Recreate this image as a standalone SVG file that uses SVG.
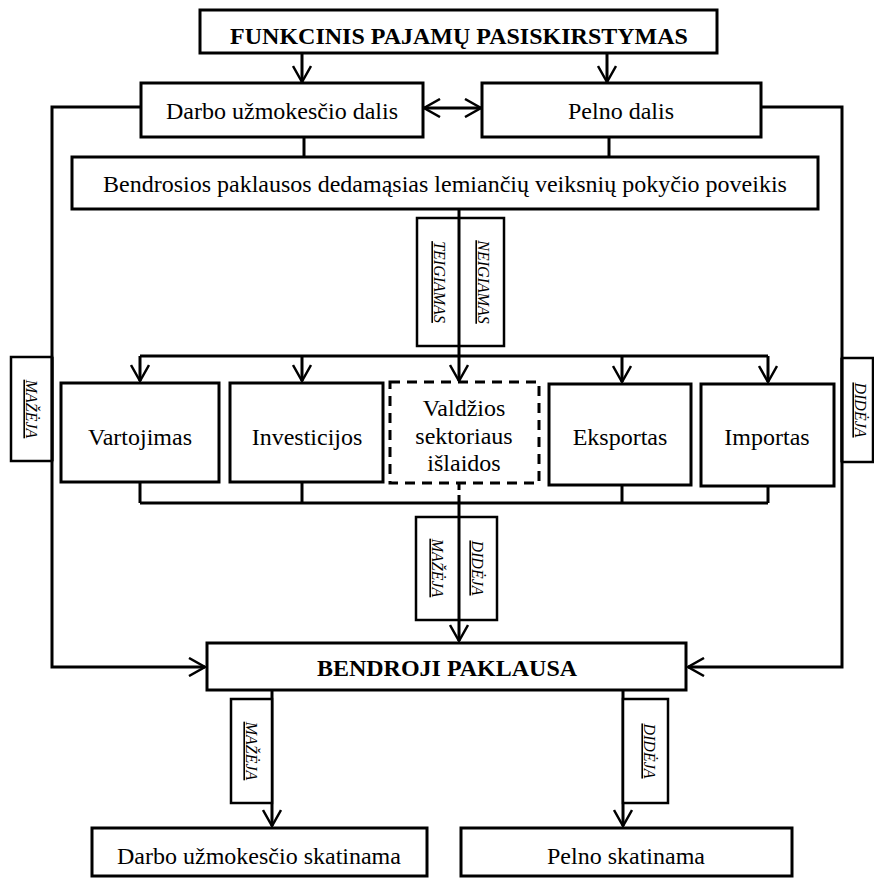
<svg xmlns="http://www.w3.org/2000/svg" width="874" height="878" viewBox="0 0 874 878">
  <style>
    .box { fill: #fff; stroke: #000; stroke-width: 3; }
    .dash { fill: #fff; stroke: #000; stroke-width: 3; stroke-dasharray: 10 7; }
    .tag { fill: #fff; stroke: #000; stroke-width: 2.5; }
    .ln { fill: none; stroke: #000; stroke-width: 3; }
    .t { font-family: "Liberation Serif", "Times New Roman", serif; font-size: 24px; fill: #000; text-anchor: middle; }
    .b { font-weight: bold; }
    .v { font-family: "Liberation Serif", "Times New Roman", serif; font-size: 16px; font-style: italic; fill: #000; text-anchor: middle; text-decoration: underline; }
  </style>
  <defs>
    <marker id="arr" viewBox="0 0 20 20" refX="17" refY="10" markerWidth="20" markerHeight="20" markerUnits="userSpaceOnUse" orient="auto-start-reverse">
      <path d="M1,1 L17,10 L1,19" fill="none" stroke="#000" stroke-width="2.5"/>
    </marker>
  </defs>

  <rect width="874" height="878" fill="#fff"/>

  <!-- connectors -->
  <g id="connectors">
    <line class="ln" x1="302" y1="53" x2="302" y2="82" marker-end="url(#arr)"/>
    <line class="ln" x1="607" y1="53" x2="607" y2="82" marker-end="url(#arr)"/>
    <line class="ln" x1="424" y1="108" x2="481" y2="108" marker-start="url(#arr)" marker-end="url(#arr)"/>
    <line class="ln" x1="304" y1="137" x2="304" y2="157"/>
    <line class="ln" x1="609" y1="137" x2="609" y2="157"/>
    <polyline class="ln" points="141,107 52,107 52,667 205,667" marker-end="url(#arr)"/>
    <polyline class="ln" points="761,107 842,107 842,667 688,667" marker-end="url(#arr)"/>
    <line class="ln" x1="459" y1="209" x2="459" y2="381" marker-end="url(#arr)"/>
    <line class="ln" x1="140" y1="356" x2="768" y2="356"/>
    <line class="ln" x1="140" y1="356" x2="140" y2="381" marker-end="url(#arr)"/>
    <line class="ln" x1="302" y1="356" x2="302" y2="381" marker-end="url(#arr)"/>
    <line class="ln" x1="622" y1="356" x2="622" y2="382" marker-end="url(#arr)"/>
    <line class="ln" x1="768" y1="356" x2="768" y2="382" marker-end="url(#arr)"/>
    <line class="ln" x1="140" y1="482" x2="140" y2="503"/>
    <line class="ln" x1="302" y1="482" x2="302" y2="503"/>
    <line class="ln" x1="459" y1="483" x2="459" y2="503" stroke-dasharray="7 5"/>
    <line class="ln" x1="622" y1="485" x2="622" y2="503"/>
    <line class="ln" x1="768" y1="486" x2="768" y2="503"/>
    <line class="ln" x1="140" y1="503" x2="768" y2="503"/>
    <line class="ln" x1="459" y1="503" x2="459" y2="641" marker-end="url(#arr)"/>
    <line class="ln" x1="272" y1="690" x2="272" y2="826" marker-end="url(#arr)"/>
    <line class="ln" x1="623" y1="690" x2="623" y2="826" marker-end="url(#arr)"/>
  </g>

  <!-- direction tags on the connectors -->
  <g id="tags">
    <rect class="tag" x="417" y="218" width="87" height="128"/>
    <line class="ln" x1="459" y1="218" x2="459" y2="346"/>
    <text class="v" transform="translate(434,282) rotate(90)">TEIGIAMAS</text>
    <text class="v" transform="translate(478,282) rotate(90)">NEIGIAMAS</text>

    <rect class="tag" x="11" y="357" width="41" height="104"/>
    <line class="ln" x1="52" y1="357" x2="52" y2="461"/>
    <text class="v" transform="translate(26,409) rotate(90)">MAŽĖJA</text>

    <rect class="tag" x="842" y="358" width="31" height="104"/>
    <line class="ln" x1="842" y1="358" x2="842" y2="462"/>
    <text class="v" transform="translate(855,410) rotate(90)">DIDĖJA</text>

    <rect class="tag" x="416" y="517" width="81" height="103"/>
    <line class="ln" x1="459" y1="517" x2="459" y2="620"/>
    <text class="v" transform="translate(432,568) rotate(90)">MAŽĖJA</text>
    <text class="v" transform="translate(472,568) rotate(90)">DIDĖJA</text>

    <rect class="tag" x="231" y="699" width="41" height="104"/>
    <text class="v" transform="translate(246,751) rotate(90)">MAŽĖJA</text>

    <rect class="tag" x="623" y="699" width="45" height="104"/>
    <text class="v" transform="translate(644,751) rotate(90)">DIDĖJA</text>
  </g>

  <g id="funkcinis">
    <rect class="box" x="200" y="10" width="517" height="43"/>
    <text class="t b" x="459" y="44">FUNKCINIS PAJAMŲ PASISKIRSTYMAS</text>
  </g>
  <g id="darbo-dalis">
    <rect class="box" x="141" y="83" width="282" height="54"/>
    <text class="t" x="282" y="119">Darbo užmokesčio dalis</text>
  </g>
  <g id="pelno-dalis">
    <rect class="box" x="482" y="83" width="279" height="54"/>
    <text class="t" x="621" y="119">Pelno dalis</text>
  </g>
  <g id="bendrosios">
    <rect class="box" x="72" y="157" width="746" height="52"/>
    <text class="t" x="445" y="192">Bendrosios paklausos dedamąsias lemiančių veiksnių pokyčio poveikis</text>
  </g>
  <g id="vartojimas">
    <rect class="box" x="61" y="383" width="158" height="99"/>
    <text class="t" x="140" y="445">Vartojimas</text>
  </g>
  <g id="investicijos">
    <rect class="box" x="230" y="383" width="153" height="99"/>
    <text class="t" x="307" y="445">Investicijos</text>
  </g>
  <g id="valdzios">
    <rect class="dash" x="390" y="382" width="149" height="101"/>
    <text class="t" x="464" y="416">Valdžios</text>
    <text class="t" x="464" y="444">sektoriaus</text>
    <text class="t" x="464" y="471">išlaidos</text>
  </g>
  <g id="eksportas">
    <rect class="box" x="549" y="384" width="142" height="101"/>
    <text class="t" x="620" y="445">Eksportas</text>
  </g>
  <g id="importas">
    <rect class="box" x="701" y="384" width="133" height="102"/>
    <text class="t" x="767" y="445">Importas</text>
  </g>
  <g id="bendroji">
    <rect class="box" x="207" y="643" width="479" height="47"/>
    <text class="t b" x="447" y="676">BENDROJI PAKLAUSA</text>
  </g>
  <g id="darbo-skatinama">
    <rect class="box" x="92" y="828" width="335" height="48"/>
    <text class="t" x="259" y="864">Darbo užmokesčio skatinama</text>
  </g>
  <g id="pelno-skatinama">
    <rect class="box" x="461" y="828" width="331" height="48"/>
    <text class="t" x="626" y="864">Pelno skatinama</text>
  </g>
</svg>
